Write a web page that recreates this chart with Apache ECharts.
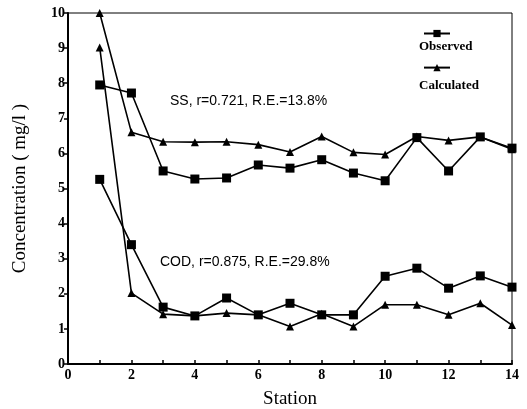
<!DOCTYPE html>
<html>
<head>
<meta charset="utf-8">
<style>
  html, body { margin: 0; padding: 0; background: #fff; }
  #chart { width: 527px; height: 409px; }
</style>
<script src="https://cdn.jsdelivr.net/npm/echarts@6/dist/echarts.min.js"></script>
</head>
<body>
<div id="chart"></div>
<script>
// Station numbers along the river
const stations = [1, 2, 3, 4, 5, 6, 7, 8, 9, 10, 11, 12, 13, 14];

// Suspended solids (mg/l)
const ssObserved   = [7.95, 7.72, 5.5, 5.27, 5.3, 5.67, 5.58, 5.82, 5.44, 5.22, 6.45, 5.5, 6.47, 6.15];
const ssCalculated = [10.0, 6.6, 6.33, 6.32, 6.33, 6.25, 6.04, 6.48, 6.03, 5.97, 6.48, 6.37, 6.47, 6.12];

// Chemical oxygen demand (mg/l)
const codObserved   = [5.26, 3.4, 1.62, 1.37, 1.88, 1.4, 1.73, 1.4, 1.4, 2.5, 2.73, 2.16, 2.51, 2.19];
const codCalculated = [9.02, 2.02, 1.42, 1.37, 1.45, 1.4, 1.07, 1.43, 1.07, 1.69, 1.69, 1.4, 1.73, 1.11];

const xTicks = [0, 2, 4, 6, 8, 10, 12, 14];

const pairs = (ys) => stations.map((s, i) => [s, ys[i]]);

const serif = 'Liberation Serif, DejaVu Serif, serif';
const sans = 'Liberation Sans, Arial, sans-serif';

function lineSeries(name, ys, symbol, size) {
  return {
    name: name,
    type: 'line',
    data: pairs(ys),
    symbol: symbol,
    symbolSize: size,
    lineStyle: { color: '#000', width: 1.6 },
    itemStyle: { color: '#000' },
    emphasis: { disabled: true },
    animation: false,
    z: 3
  };
}

const chart = echarts.init(document.getElementById('chart'));
chart.setOption({
  backgroundColor: '#fff',
  animation: false,
  grid: {
    left: 68, right: 15, top: 13, bottom: 45,
    outerBoundsMode: 'none',
    show: true, borderColor: '#000', borderWidth: 1
  },
  legend: {
    left: 418, top: 24, orient: 'vertical', itemGap: 26,
    itemWidth: 26, itemHeight: 9,
    data: ['Observed', 'Calculated'],
    formatter: () => '',
    selectedMode: false
  },
  xAxis: {
    type: 'value', min: 0, max: 14, interval: 1,
    name: 'Station', nameLocation: 'middle', nameGap: 26,
    nameTextStyle: { fontFamily: serif, fontSize: 19, color: '#000' },
    axisLine: { lineStyle: { color: '#000', width: 2 } },
    axisTick: { inside: true, length: 4, lineStyle: { color: '#000', width: 1.5 } },
    axisLabel: {
      fontFamily: serif, fontSize: 14, fontWeight: 'bold', color: '#000', margin: 4,
      formatter: (v) => (xTicks.indexOf(v) >= 0 ? String(v) : '')
    },
    splitLine: { show: false }
  },
  yAxis: {
    type: 'value', min: 0, max: 10, interval: 1,
    name: 'Concentration ( mg/l )', nameLocation: 'middle', nameGap: 38,
    nameTextStyle: { fontFamily: serif, fontSize: 19, color: '#000' },
    axisLine: { lineStyle: { color: '#000', width: 2 } },
    axisTick: { length: 4, lineStyle: { color: '#000', width: 1.5 } },
    axisLabel: { fontFamily: serif, fontSize: 14, fontWeight: 'bold', color: '#000', margin: 3 },
    splitLine: { show: false }
  },
  series: [
    lineSeries('Observed', ssObserved, 'rect', 9),
    lineSeries('Calculated', ssCalculated, 'triangle', 8),
    lineSeries('Observed', codObserved, 'rect', 9),
    lineSeries('Calculated', codCalculated, 'triangle', 8)
  ],
  graphic: [
    { type: 'text', left: 419, top: 40,
      style: { text: 'Observed', font: 'bold 13px ' + serif, fill: '#000' } },
    { type: 'text', left: 419, top: 79,
      style: { text: 'Calculated', font: 'bold 13px ' + serif, fill: '#000' } },
    { type: 'text', left: 170, top: 94,
      style: { text: 'SS, r=0.721, R.E.=13.8%', font: '14px ' + sans, fill: '#000' } },
    { type: 'text', left: 160, top: 255,
      style: { text: 'COD, r=0.875, R.E.=29.8%', font: '14px ' + sans, fill: '#000' } }
  ]
});
</script>
</body>
</html>
